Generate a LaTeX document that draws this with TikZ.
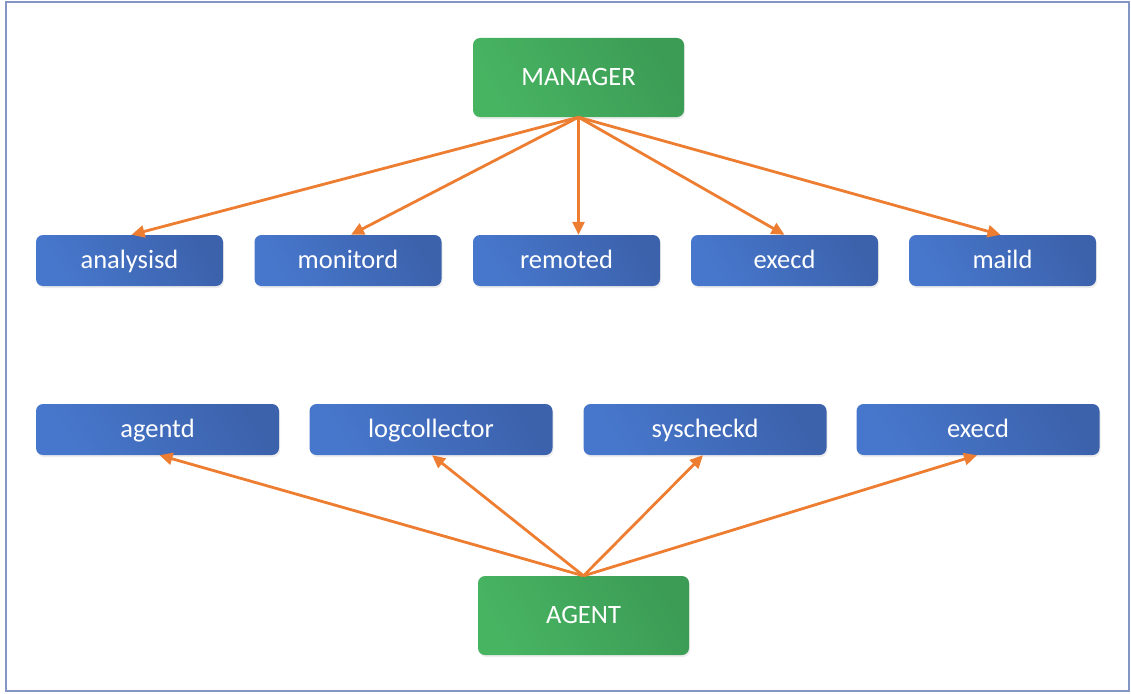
\documentclass[tikz,border=0pt]{standalone}
\usepackage{fontspec}
\setmainfont{Carlito}
\usetikzlibrary{arrows.meta,shadows}
\definecolor{frameblue}{HTML}{8497C4}
\definecolor{bluetop}{HTML}{4777CC}
\definecolor{bluebot}{HTML}{3C62AC}
\definecolor{greentop}{HTML}{47B462}
\definecolor{greenbot}{HTML}{3C9C55}
\definecolor{linkorange}{HTML}{ED7D31}
\tikzset{
  x=1pt, y=-1pt,
  boxbase/.style={rounded corners=7pt, text=white, align=center, inner sep=0pt,
    font=\fontsize{26.5}{30}\selectfont, text height=19pt, text depth=3.5pt,
    drop shadow={opacity=0.15, shadow xshift=1pt, shadow yshift=-2pt}},
  procbox/.style={boxbase, minimum height=51pt,
    left color=bluetop, right color=bluebot, shading angle=120},
  rolebox/.style={boxbase, minimum width=211pt, minimum height=79pt,
    left color=greentop, right color=greenbot, shading angle=120},
  link/.style={draw=linkorange, line width=2.8pt,
    -{Triangle[length=13pt,width=12pt]}}
}
\begin{document}
\begin{tikzpicture}
  \useasboundingbox (0,0) rectangle (1131,693);
  % outer frame
  \draw[frameblue, line width=2pt] (6,2) rectangle (1129,691);

  % manager and its daemons
  \node[rolebox] (manager) at (578.5,77.5) {MANAGER};
  \node[procbox, minimum width=187pt] (analysisd) at (129.5,260.5) {analysisd};
  \node[procbox, minimum width=187pt] (monitord)  at (348,260.5) {monitord};
  \node[procbox, minimum width=187pt] (remoted)   at (566.5,260.5) {remoted};
  \node[procbox, minimum width=187pt] (mexecd)    at (784.5,260.5) {execd};
  \node[procbox, minimum width=187pt] (maild)     at (1002.5,260.5) {maild};

  % agent and its daemons
  \node[procbox, minimum width=243pt] (agentd)       at (157.5,429.5) {agentd};
  \node[procbox, minimum width=243pt] (logcollector) at (431,429.5) {logcollector};
  \node[procbox, minimum width=243pt] (syscheckd)    at (705,429.5) {syscheckd};
  \node[procbox, minimum width=243pt] (aexecd)       at (978,429.5) {execd};
  \node[rolebox] (agent) at (583.5,615.5) {AGENT};

  % connectors
  \draw[link] (manager.south) -- ([xshift=2pt]analysisd.north);
  \draw[link] (manager.south) -- ([xshift=3pt]monitord.north);
  \draw[link] (manager.south) -- (manager.south |- remoted.north);
  \draw[link] (manager.south) -- (mexecd.north);
  \draw[link] (manager.south) -- ([xshift=-2pt]maild.north);

  \draw[link] (agent.north) -- ([xshift=2pt]agentd.south);
  \draw[link] (agent.north) -- ([xshift=1pt]logcollector.south);
  \draw[link] (agent.north) -- ([xshift=-2pt]syscheckd.south);
  \draw[link] (agent.north) -- ([xshift=-1pt]aexecd.south);
\end{tikzpicture}
\end{document}
